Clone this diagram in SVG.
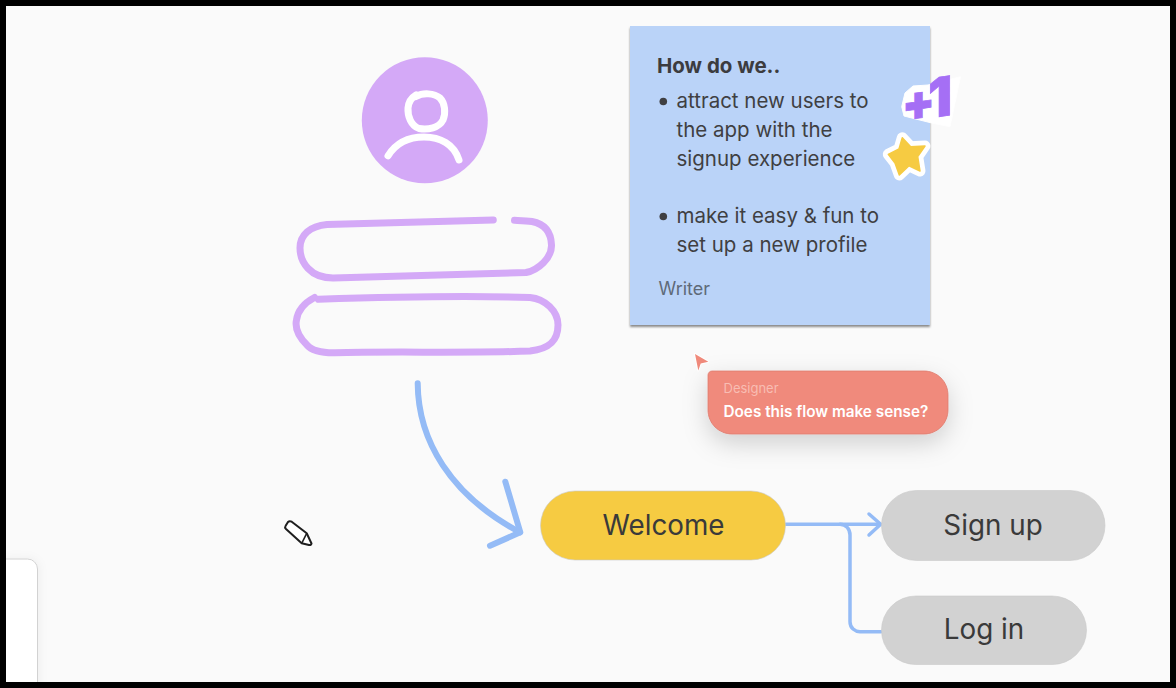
<svg xmlns="http://www.w3.org/2000/svg" width="1176" height="688" viewBox="0 0 1176 688">
  <defs>
    <style>
      text { font-family: "Inter", "Liberation Sans", sans-serif; }
      .sketch { fill: none; stroke: #d4a9f7; stroke-width: 7; stroke-linecap: round; stroke-linejoin: round; }
      .head { fill: none; stroke: #ffffff; stroke-width: 7; stroke-linecap: round; stroke-linejoin: round; }
      .conn { fill: none; stroke: #94bbf6; stroke-linecap: round; stroke-linejoin: round; }
      .pill { stroke: #c9c9c9; stroke-width: 0.6; }
      .label { font-size: 27.800px; font-weight: 400; fill: #3a3a3a; text-anchor: middle; }
      .note { font-size: 20.500px; fill: #3f3f42; }
    </style>
    <filter id="bubbleShadow" x="-30%" y="-50%" width="160%" height="220%">
      <feDropShadow dx="0" dy="9" stdDeviation="12" flood-color="#000000" flood-opacity="0.17"/>
    </filter>
    <filter id="noteShadow" x="-5%" y="-5%" width="110%" height="110%">
      <feDropShadow dx="0" dy="2" stdDeviation="0.800" flood-color="#000000" flood-opacity="0.45"/>
    </filter>
    <filter id="panelShadow" x="-50%" y="-20%" width="200%" height="140%">
      <feDropShadow dx="1" dy="0" stdDeviation="5" flood-color="#000000" flood-opacity="0.05"/>
    </filter>
  </defs>

  <rect id="background" width="1176" height="688" fill="#fafafa"/>

  <g id="side-panel">
    <rect x="-6" y="559" width="43.500" height="140" rx="10" fill="#ffffff" stroke="#d2d2d2" stroke-width="1" filter="url(#panelShadow)"/>
  </g>

  <g id="avatar">
    <circle cx="424.800" cy="120.300" r="63" fill="#d4a9f7"/>
    <path class="head" d="M416 96.500C423 92.500 434 93 440 98C445 103 446 113 443 120C439 128 428 130 419 128.500C411 126 407.500 116 408 108C408.500 102 411 98 416 95"/>
    <path class="head" d="M388 155.800C396 143 408 137 424 137C440 137 454 144 459 160"/>
  </g>

  <g id="input-top">
    <path class="sketch" d="M493.300 220L327 224.500C310 226 300 235 300 248C300 262 310 278 333 278L526 272.500C538 270 552 258 551.500 245C551 232 545 224 532 221.500C526 220.500 520 220.500 514.500 220.300"/>
  </g>

  <g id="input-bottom">
    <path class="sketch" d="M318.500 299.300C390 297 480 296 530 297.500C545 299 558 311 558 325C558 342 548 349 530 351C470 353.500 390 351 335 352.800C320 353 311 350 307 345C298 336 295 327 296.500 320C298 309 306 302 314.500 297.500"/>
  </g>

  <g id="connectors">
    <path class="conn" stroke-width="6" d="M417.700 383.300C418 440 450 495 520 532.300"/>
    <path class="conn" stroke-width="6" d="M505.300 481.700L520.300 532.300L490 545.700"/>
    <path class="conn" stroke-width="3.500" d="M786 524.300H880"/>
    <path class="conn" stroke-width="3.500" d="M869 514L880.700 524.300L869 535"/>
    <path class="conn" stroke-width="3.500" d="M840 524.300C846 524.300 850 529 850 535V621.700C850 628 855 631.700 860 631.700H881"/>
  </g>

  <g id="welcome">
    <rect class="pill" x="540.500" y="491" width="245" height="69" rx="34.500" fill="#f6cb42"/>
    <text class="label" x="663.500" y="535">Welcome</text>
  </g>

  <g id="sign-up">
    <rect class="pill" x="881.500" y="490.500" width="223.500" height="70" rx="35" fill="#d2d2d2"/>
    <text class="label" x="993" y="534.500">Sign up</text>
  </g>

  <g id="log-in">
    <rect class="pill" x="881.500" y="596" width="205" height="68.500" rx="34.250" fill="#d2d2d2"/>
    <text class="label" x="984" y="639">Log in</text>
  </g>

  <g id="sticky-note">
    <rect x="630" y="26" width="300" height="299" fill="#bad3f8" filter="url(#noteShadow)"/>
    <text x="657" y="72.500" font-size="20.500" font-weight="700" fill="#3c3c3f">How do we..</text>
    <circle cx="663.300" cy="101.500" r="3.800" fill="#3f3f42"/>
    <text class="note" x="676.500" y="107.500">attract new users to</text>
    <text class="note" x="676.500" y="136.500">the app with the</text>
    <text class="note" x="676.500" y="165.500">signup experience</text>
    <circle cx="663.300" cy="216.500" r="3.800" fill="#3f3f42"/>
    <text class="note" x="676.500" y="222.500">make it easy &amp; fun to</text>
    <text class="note" x="676.500" y="251.500">set up a new profile</text>
    <text x="658.500" y="295" font-size="18px" fill="#5f6a78">Writer</text>
  </g>

  <g id="plus-one-sticker">
    <path d="M960.500 76.700L950 126.700L931.700 123L904 116L901.700 106.700L905 93L913 86L928 85Z" fill="#ffffff" stroke="#ffffff" stroke-width="1" stroke-linejoin="round"/>
    <text transform="translate(902 122) rotate(-8) skewX(-8)" font-weight="900" fill="#a56ff5" stroke="#a56ff5" stroke-width="0.800" font-size="48px">+<tspan font-size="54px" dx="-7">1</tspan></text>
  </g>

  <g id="star-sticker">
    <path d="M902.300 137.700L910.700 146.700L925 146L917.700 156.700L920 171L909 165.700L899.300 175L895 163L888.300 154.300L899 149Z" fill="#ffffff" stroke="#ffffff" stroke-width="11" stroke-linejoin="round"/>
    <path d="M902.300 137.700L910.700 146.700L925 146L917.700 156.700L920 171L909 165.700L899.300 175L895 163L888.300 154.300L899 149Z" fill="#f6cb42" stroke="#f6cb42" stroke-width="1.500" stroke-linejoin="round"/>
  </g>

  <g id="designer-comment">
    <path d="M695 354L708.300 361.700L700.700 363.500L698.300 370.500Z" fill="#f08a7b" stroke="#ffffff" stroke-width="2" stroke-linejoin="round" paint-order="stroke"/>
    <path d="M712 371H924C937.300 371 948 381.700 948 395V410C948 423.300 937.300 434 924 434H732C718.700 434 708 423.300 708 410V375C708 372.800 709.800 371 712 371Z" fill="#f08a7b" stroke="#dd7b6e" stroke-width="0.800" filter="url(#bubbleShadow)"/>
    <text x="723.500" y="393" font-size="13px" fill="#f8bdb3">Designer</text>
    <text x="723.500" y="417" font-size="15.300px" font-weight="600" fill="#ffffff">Does this flow make sense?</text>
  </g>

  <g id="pen-cursor">
    <path d="M291.700 521.700L306.700 533.300L311.500 543.500Q311 545.500 309 545L301.700 543.300L286 529Q284.500 527.500 285.500 526L288 522Q289.500 520.500 291.700 521.700Z" fill="#ffffff" stroke="#1e1e1e" stroke-width="2" stroke-linejoin="round"/>
    <path d="M306.700 533.300L301.700 543.300" fill="none" stroke="#1e1e1e" stroke-width="1.500"/>
  </g>

  <path id="frame" fill="#000000" fill-rule="evenodd" d="M0 0H1176V688H0ZM6 6V682H1170V6Z"/>
</svg>
